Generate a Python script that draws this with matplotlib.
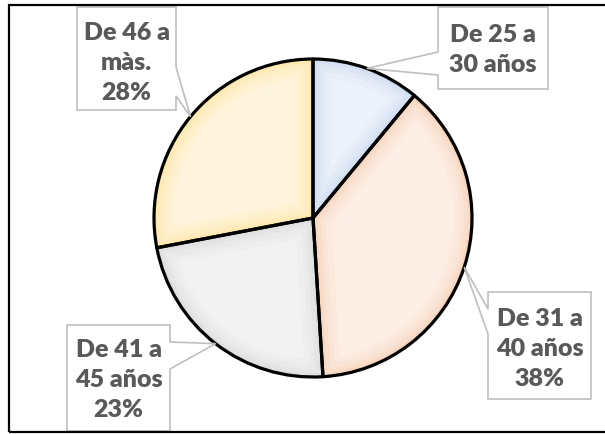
import numpy as np
import matplotlib
matplotlib.use('Agg')
import matplotlib.pyplot as plt
from matplotlib.patches import Polygon, Rectangle, Wedge

categories = ['De 25 a\n30 años', 'De 31 a\n40 años', 'De 41 a\n45 años', 'De 46 a\nmàs.']
values = [11, 38, 23, 28]
show_pct = [False, True, True, True]

fills = ['#EDF2FA', '#FCEEE5', '#F2F2F2', '#FFF5DC']
rims = ['#B9CDEC', '#F5C09E', '#CFCFCF', '#FFDE85']

W, H = 605, 435
fig = plt.figure(figsize=(W / 100, H / 100), dpi=100)
ax = fig.add_axes([0, 0, 1, 1])


def P(x, y):
    return (x, H - y)


cx, cy, r = 313, 219, 159
center = P(cx, cy)
wedges, _ = ax.pie(values, startangle=90, counterclock=False, center=center,
                   radius=r, colors=fills, wedgeprops=dict(linewidth=0))
ax.set_xlim(0, W)
ax.set_ylim(0, H)
ax.set_aspect('equal')
ax.axis('off')

for w, rim in zip(wedges, rims):
    for lw, a in [(26, 0.10), (18, 0.12), (11, 0.16), (6, 0.2), (3, 0.25)]:
        g = Wedge(w.center, w.r, w.theta1, w.theta2, fill=False, ec=rim, lw=lw, alpha=a)
        ax.add_patch(g)
        g.set_clip_path(w)
for w in wedges:
    ax.add_patch(Wedge(w.center, w.r, w.theta1, w.theta2, fill=False, ec='black',
                       lw=2.3, joinstyle='round', zorder=3))

# label boxes (pixel layout): L, R, T, B, side of pointer, pointer base y1, y2, text center y
boxes = [
    (438, 548, 8, 90, 'L', 53, 76, 50),
    (488, 591, 293, 400, 'L', 310, 335, 349),
    (67, 170, 326, 432, 'R', 343, 370, 380),
    (77, 176, 8, 111, 'R', 68, 97, 63),
]

for w, cat, val, sp, (L, R, T, B, side, p1, p2, ty) in zip(wedges, categories, values, show_pct, boxes):
    mid = np.deg2rad((w.theta1 + w.theta2) / 2)
    tip = (w.center[0] + w.r * np.cos(mid), w.center[1] + w.r * np.sin(mid))
    if side == 'R':
        verts = [P(L, T), P(R, T), P(R, p1), tip, P(R, p2), P(R, B), P(L, B)]
    else:
        verts = [P(L, T), P(R, T), P(R, B), P(L, B), P(L, p2), tip, P(L, p1)]
    ax.add_patch(Polygon(verts, closed=True, fc='white', ec='#BFBFBF', lw=1.2, zorder=4))
    txt = cat + (f'\n{val}%' if sp else '')
    ax.text(*P((L + R) / 2, ty), txt, ha='center', va='center', fontsize=18,
            fontweight='heavy', color='#595959', family='Lato', linespacing=1.45, zorder=5)

ax.add_patch(Rectangle(P(9, 433), 600, 427, fill=False, ec='black', lw=1.6, zorder=6))

fig.savefig('out.png', dpi=100)
